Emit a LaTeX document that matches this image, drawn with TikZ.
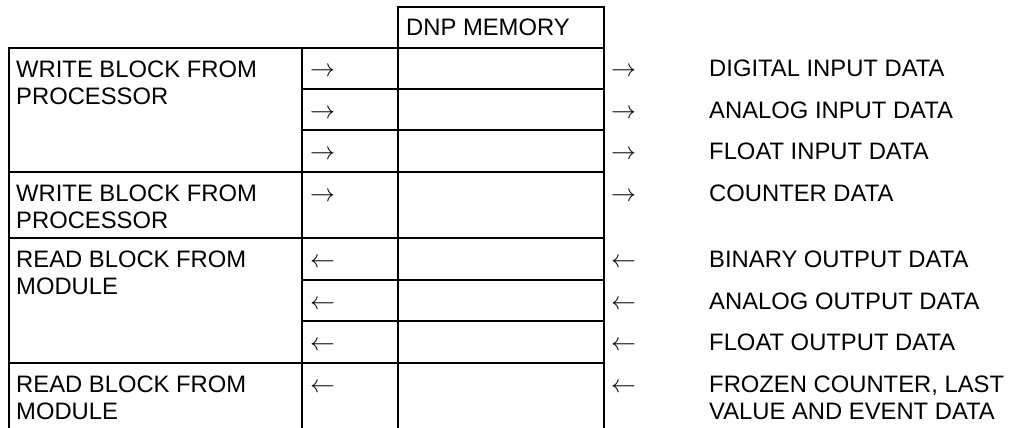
\documentclass[tikz,border=0pt]{standalone}
\usepackage{fontspec}
\setmainfont{Liberation Sans}
\usepackage{tikz}
\usetikzlibrary{positioning}

\tikzset{
  grid line/.style={line width=1.8pt, line cap=rect},
  celltext/.style={anchor=base west, inner sep=0pt, align=left,
    font=\fontsize{23.8}{27.5}\selectfont},
  arrowtext/.style={anchor=base west, inner sep=0pt,
    font=\fontsize{24}{27.5}\selectfont}
}

\begin{document}
\begin{tikzpicture}[x=1pt, y=-1pt]
\useasboundingbox (0,0) rectangle (1009,428);

% table frame
\draw[grid line] (398,7) rectangle (604,48);
\draw[grid line] (9,48) -- (398,48);
\foreach \xcol in {9,302,398,604}
  \draw[grid line, line cap=butt] (\xcol,48) -- (\xcol,428);
\foreach \yrow in {172,238,363}
  \draw[grid line] (9,\yrow) -- (604,\yrow);
\foreach \yrow in {89,130,280,321}
  \draw[grid line] (302,\yrow) -- (604,\yrow);

% header
\node[celltext] (dnp) at (406,36) {DNP MEMORY};

% left column blocks (base = baseline of the last line)
\node[celltext] (wrblk1) at (16,104.5) {WRITE BLOCK FROM\\PROCESSOR};
\node[celltext] (wrblk2) at (16,228.5) {WRITE BLOCK FROM\\PROCESSOR};
\node[celltext] (rdblk1) at (16,294.5) {READ BLOCK FROM\\MODULE};
\node[celltext] (rdblk2) at (16,419.5) {READ BLOCK FROM\\MODULE};

% arrows into and out of memory
\foreach \ybase [count=\i] in {77,118,159,201} {
  \node[arrowtext] (inl\i) at (310,\ybase) {$\rightarrow$};
  \node[arrowtext] (inr\i) at (611,\ybase) {$\rightarrow$};
}
\foreach \ybase [count=\i] in {267,309,350,392} {
  \node[arrowtext] (outl\i) at (310,\ybase) {$\leftarrow$};
  \node[arrowtext] (outr\i) at (611,\ybase) {$\leftarrow$};
}

% data types
\node[celltext] (digin) at (709,77) {DIGITAL INPUT DATA};
\node[celltext] (anain) at (709,118) {ANALOG INPUT DATA};
\node[celltext] (fltin) at (709,159) {FLOAT INPUT DATA};
\node[celltext] (cntin) at (709,201) {COUNTER DATA};
\node[celltext] (binout) at (709,267) {BINARY OUTPUT DATA};
\node[celltext] (anaout) at (709,309) {ANALOG OUTPUT DATA};
\node[celltext] (fltout) at (709,350) {FLOAT OUTPUT DATA};
\node[celltext] (frzout) at (709,419.5) {FROZEN COUNTER, LAST\\VALUE AND EVENT DATA};
\end{tikzpicture}
\end{document}
